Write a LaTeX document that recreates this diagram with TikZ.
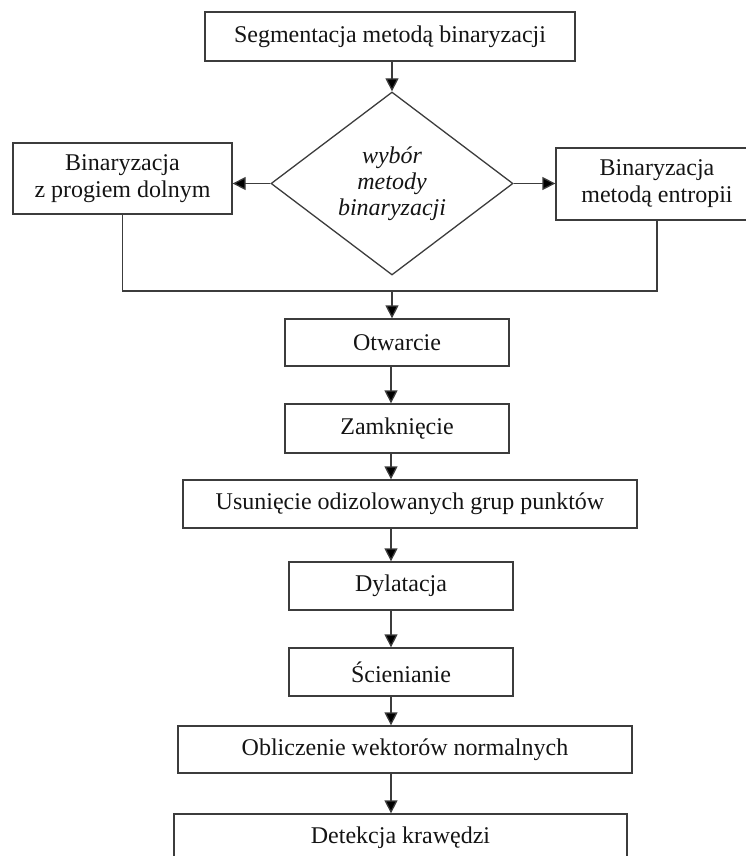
\documentclass[tikz,border=0pt]{standalone}
\usepackage{fontspec}
\setmainfont{Liberation Serif}
\usetikzlibrary{positioning, arrows.meta, shapes.geometric}
\definecolor{LineColor}{RGB}{60,60,60}
\definecolor{TextColor}{RGB}{20,20,20}
\tikzset{
  process box/.style={rectangle, draw=LineColor, line width=1.3pt, inner sep=0pt, align=center, text=TextColor, font=\fontsize{24}{27}\selectfont},
  choice/.style={diamond, draw=LineColor, line width=1.3pt, inner sep=0pt, align=center, text=TextColor, font=\fontsize{24}{26}\selectfont\itshape, minimum width=242pt, minimum height=183pt},
  flow line/.style={line width=1.3pt, LineColor},
  flow arrow/.style={flow line, -{Triangle[width=13pt,length=13pt,fill=black]}}
}

\begin{document}
\begin{tikzpicture}[x=1pt, y=-1pt]
    \useasboundingbox (0,0) rectangle (745,856);

    % Segmentation and the choice of method
    \node[process box, minimum width=370pt, minimum height=49pt] (segm) at (390,36.5) {Segmentacja metodą binaryzacji};
    \node[choice] (wybor) at (392,183.5) {wybór\\metody\\binaryzacji};
    \node[process box, minimum width=219pt, minimum height=71pt] (dolny) at (122.5,178.5) {Binaryzacja\\z progiem dolnym};
    \node[process box, minimum width=202pt, minimum height=72pt] (entropia) at (657,184) {Binaryzacja\\metodą entropii};

    % Axis of the main column and merge point
    \coordinate (axis) at (391,0);
    \coordinate (merge) at (392,291);

    % Morphological steps
    \node[process box, minimum width=224pt, minimum height=47pt] (otw) at (397,342.5) {Otwarcie};
    \node[process box, minimum width=224pt, minimum height=49pt] (zamk) at (397,428.5) {Zamknięcie};
    \node[process box, minimum width=454pt, minimum height=48pt] (usun) at (410,504) {Usunięcie odizolowanych grup punktów};
    \node[process box, minimum width=224pt, minimum height=48pt] (dyl) at (401,586) {Dylatacja};
    \node[process box, minimum width=224pt, minimum height=48pt] (scien) at (401,672) {Ścienianie};
    \node[process box, minimum width=454pt, minimum height=47pt] (oblicz) at (405,749.5) {Obliczenie wektorów normalnych};
    \node[process box, minimum width=453pt, minimum height=48pt] (detek) at (400.5,838) {Detekcja krawędzi};

    % Connectors
    \draw[flow arrow] (segm.south -| wybor) -- (wybor.north);
    \draw[flow arrow] (wybor.west) -- (wybor.west -| dolny.east);
    \draw[flow arrow] (wybor.east) -- (wybor.east -| entropia.west);
    \draw[flow line] (dolny.south) -- (dolny.south |- merge) -- (entropia.south |- merge) -- (entropia.south);
    \draw[flow arrow] (merge) -- (otw.north -| merge);
    \draw[flow arrow] (otw.south -| axis) -- (zamk.north -| axis);
    \draw[flow arrow] (zamk.south -| axis) -- (usun.north -| axis);
    \draw[flow arrow] (usun.south -| axis) -- (dyl.north -| axis);
    \draw[flow arrow] (dyl.south -| axis) -- (scien.north -| axis);
    \draw[flow arrow] (scien.south -| axis) -- (oblicz.north -| axis);
    \draw[flow arrow] (oblicz.south -| axis) -- (detek.north -| axis);
\end{tikzpicture}
\end{document}
